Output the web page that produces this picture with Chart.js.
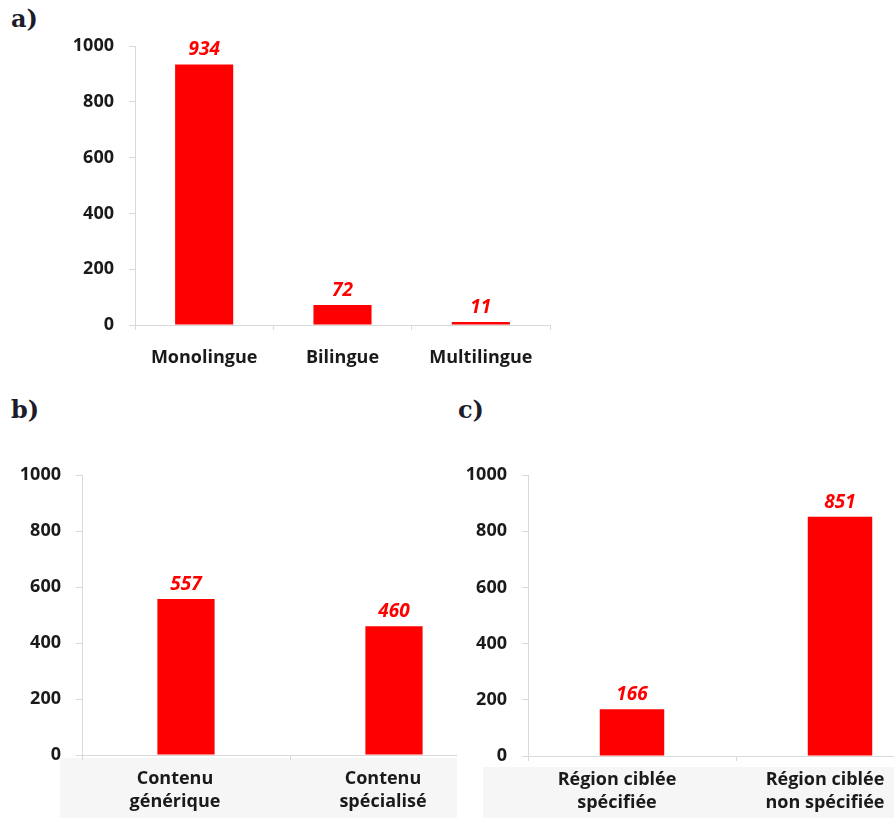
<!DOCTYPE html>
<html>
<head>
<meta charset="utf-8">
<script src="https://cdn.jsdelivr.net/npm/chart.js@4.4.1/dist/chart.umd.min.js"></script>
<style>
  html, body { margin: 0; padding: 0; width: 894px; height: 818px; overflow: hidden; background: #fff; }
  canvas, .box { position: absolute; }
  .tag { position: absolute; font-family: "DejaVu Serif", serif; font-weight: bold; font-size: 24px; line-height: 24px; color: #1c1c2a; }
</style>
</head>
<body>
<div class="tag" style="left:11px;top:7px;">a)</div>
<canvas id="chartA" width="560" height="390" style="left:0;top:0;"></canvas>

<div class="tag" style="left:11px;top:398px;">b)</div>
<div class="box" style="left:60px;top:758px;width:397px;height:60px;background:#f6f6f6;"></div>
<canvas id="chartB" width="510" height="418" style="left:0;top:400px;"></canvas>

<div class="box" style="left:457px;top:390px;width:437px;height:428px;background:#fff;"></div>
<div class="tag" style="left:458px;top:398px;">c)</div>
<div class="box" style="left:483px;top:767px;width:411px;height:51px;background:#f6f6f6;"></div>
<canvas id="chartC" width="497" height="418" style="left:457px;top:400px;"></canvas>

<script>
// Données
const langLabels = ['Monolingue', 'Bilingue', 'Multilingue'];
const langValues = [934, 72, 11];

const contentLabels = [['Contenu', 'générique'], ['Contenu', 'spécialisé']];
const contentValues = [557, 460];

const regionLabels = [['Région ciblée', 'spécifiée'], ['Région ciblée', 'non spécifiée']];
const regionValues = [166, 851];

const yMin = 0;
const yMax = 1000;
const yStep = 200;

const axisGrey = '#d9d9d9';
const textColor = '#1a1a1a';
const barRed = '#ff0000';

// valeurs en rouge italique au-dessus des barres
const valueLabels = {
    id: 'valueLabels',
    afterDatasetsDraw(chart) {
        const ctx = chart.ctx;
        const values = chart.data.datasets[0].data;
        ctx.save();
        ctx.font = 'italic bold 19px "Open Sans"';
        ctx.fillStyle = barRed;
        ctx.textAlign = 'center';
        ctx.textBaseline = 'alphabetic';
        chart.getDatasetMeta(0).data.forEach((bar, i) => {
            ctx.fillText(values[i], bar.x, bar.y - 9);
        });
        ctx.restore();
    }
};

function makeChart(id, labels, values, o) {
    const ctx = document.getElementById(id).getContext('2d');
    return new Chart(ctx, {
        type: 'bar',
        data: {
            labels: labels,
            datasets: [{
                data: values,
                backgroundColor: barRed,
                borderWidth: 0,
                categoryPercentage: 1,
                barPercentage: o.barPct
            }]
        },
        options: {
            responsive: false,
            animation: false,
            layout: { padding: { top: o.top, right: o.right, left: 0, bottom: 0 } },
            scales: {
                x: {
                    grid: { drawOnChartArea: false, drawTicks: true, tickLength: 5, color: axisGrey },
                    border: { color: axisGrey, width: 1 },
                    ticks: {
                        color: textColor,
                        font: { family: 'Open Sans', size: 18, weight: 'bold', lineHeight: 1.25 },
                        padding: o.labelPad,
                        labelOffset: o.labelOffset,
                        maxRotation: 0,
                        autoSkip: false
                    },
                    afterFit: (scale) => { scale.height = o.xHeight; }
                },
                y: {
                    min: yMin,
                    max: yMax,
                    grid: { drawOnChartArea: false, drawTicks: true, tickLength: 6, color: axisGrey },
                    border: { color: axisGrey, width: 1 },
                    ticks: {
                        stepSize: yStep,
                        color: textColor,
                        font: { family: 'Open Sans', size: 18, weight: 'bold' },
                        padding: 15,
                        callback: (v) => String(v)
                    },
                    afterFit: (scale) => { scale.width = o.yWidth; }
                }
            },
            plugins: {
                legend: { display: false },
                tooltip: { enabled: false }
            }
        },
        plugins: [valueLabels]
    });
}

makeChart('chartA', langLabels, langValues,
    { barPct: 0.42, top: 46, right: 10, xHeight: 65, yWidth: 135, labelPad: 17, labelOffset: 0 });

makeChart('chartB', contentLabels, contentValues,
    { barPct: 0.275, top: 75, right: 12, xHeight: 63, yWidth: 82, labelPad: 8, labelOffset: -11 });

makeChart('chartC', regionLabels, regionValues,
    { barPct: 0.31, top: 75, right: 10, xHeight: 62, yWidth: 71, labelPad: 8, labelOffset: -15 });
</script>
</body>
</html>
